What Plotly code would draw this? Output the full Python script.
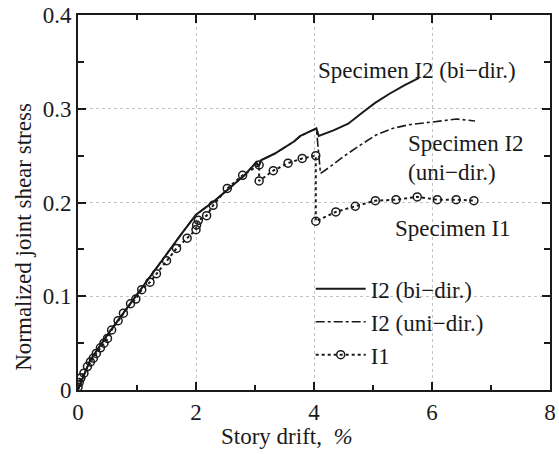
import plotly.graph_objects as go

# I2 bi-directional (solid)
bi_x = [0, 0.2, 0.5, 0.8, 1.1, 1.4, 1.76, 2.0, 2.32, 2.6, 2.82, 3.02, 3.06, 3.1, 3.33, 3.66, 3.77, 4.04, 4.08, 4.33, 4.58, 4.8, 5.03, 5.28, 5.53, 5.78]
bi_y = [0, 0.031, 0.059, 0.085, 0.111, 0.136, 0.167, 0.187, 0.202, 0.217, 0.229, 0.243, 0.238, 0.245, 0.252, 0.265, 0.271, 0.279, 0.271, 0.277, 0.284, 0.295, 0.306, 0.316, 0.325, 0.333]

# I2 uni-directional (dash-dot)
uni_x = [0, 0.2, 0.5, 0.8, 1.1, 1.4, 1.76, 2.0, 2.32, 2.6, 2.82, 3.02, 3.06, 3.1, 3.33, 3.66, 3.77, 4.04, 4.11, 4.27, 4.5, 4.78, 5.05, 5.33, 5.61, 5.89, 6.17, 6.42, 6.73]
uni_y = [0, 0.031, 0.059, 0.085, 0.111, 0.136, 0.167, 0.187, 0.202, 0.217, 0.229, 0.243, 0.238, 0.245, 0.252, 0.265, 0.271, 0.279, 0.231, 0.238, 0.249, 0.261, 0.272, 0.279, 0.283, 0.285, 0.287, 0.289, 0.287]

# I1 (dotted with open circles)
i1_x = [0, 0.02, 0.05, 0.10, 0.16, 0.21, 0.26, 0.31, 0.38, 0.44, 0.50, 0.57, 0.68, 0.77, 0.89, 0.98, 1.08, 1.22, 1.33, 1.50, 1.67, 1.85, 2.00, 2.01, 2.04, 2.18, 2.29, 2.53, 2.79, 3.07, 3.07, 3.31, 3.56, 3.80, 4.03, 4.03, 4.37, 4.70, 5.04, 5.39, 5.75, 6.09, 6.41, 6.71]
i1_y = [0.003, 0.008, 0.013, 0.018, 0.025, 0.030, 0.034, 0.039, 0.045, 0.050, 0.055, 0.064, 0.074, 0.082, 0.092, 0.097, 0.107, 0.115, 0.124, 0.138, 0.151, 0.162, 0.171, 0.176, 0.181, 0.186, 0.197, 0.215, 0.229, 0.240, 0.223, 0.234, 0.242, 0.247, 0.250, 0.180, 0.190, 0.196, 0.202, 0.203, 0.206, 0.203, 0.203, 0.202]

x_ticks = [0, 2, 4, 6, 8]
y_ticks = [0, 0.1, 0.2, 0.3, 0.4]
y_tick_text = ["0", "0.1", "0.2", "0.3", "0.4"]

FONT = "Liberation Serif"
INK = "#1a1a1a"
FS = 23

fig = go.Figure()
fig.add_trace(go.Scatter(x=bi_x, y=bi_y, mode="lines", name="I2 (bi\u2212dir.)",
                         line=dict(color=INK, width=2), legendgroup="a"))
fig.add_trace(go.Scatter(x=uni_x, y=uni_y, mode="lines", name="I2 (uni\u2212dir.)",
                         line=dict(color=INK, width=1.6, dash="dashdot"), legendgroup="b"))
fig.add_trace(go.Scatter(x=i1_x, y=i1_y, mode="lines+markers", name="I1",
                         line=dict(color=INK, width=2, dash="dot"),
                         marker=dict(symbol="circle-open", size=8, color=INK, line=dict(width=1.5)),
                         legendgroup="c"))

axis_common = dict(showline=True, linecolor=INK, linewidth=2, mirror="allticks",
                   ticks="inside", ticklen=8, tickwidth=1.5, tickcolor=INK,
                   showgrid=True, gridcolor="#c4c4c4", griddash="dot", gridwidth=1,
                   zeroline=False, tickfont=dict(family=FONT, size=FS, color=INK))

fig.update_xaxes(range=[0, 8], tickvals=x_ticks, ticklabeloverflow="allow",
                 minor=dict(dtick=1, ticks="inside", ticklen=5, tickcolor=INK, showgrid=False),
                 **axis_common)
fig.update_yaxes(range=[0, 0.4], tickvals=y_ticks, ticktext=y_tick_text,
                 minor=dict(dtick=0.05, ticks="inside", ticklen=6, tickcolor=INK, showgrid=False),
                 **axis_common)

ann_font = dict(family=FONT, size=FS, color=INK)
fig.add_annotation(x=-0.117, y=0.408, xref="paper", yref="paper", text="Normalized joint shear stress",
                   textangle=-90, showarrow=False, font=ann_font, xanchor="center", yanchor="middle")
fig.add_annotation(x=0.4435, y=-0.125, xref="paper", yref="paper", text="Story drift,  <i>%</i>",
                   showarrow=False, font=ann_font, xanchor="center", yanchor="middle")
fig.add_annotation(x=5.74, y=0.341, xref="x", yref="y", text="Specimen I2 (bi\u2212dir.)",
                   showarrow=False, font=ann_font)
fig.add_annotation(x=6.58, y=0.263, xref="x", yref="y", text="Specimen I2",
                   showarrow=False, font=ann_font)
fig.add_annotation(x=6.34, y=0.2325, xref="x", yref="y", text="(uni\u2212dir.)",
                   showarrow=False, font=ann_font)
fig.add_annotation(x=6.36, y=0.172, xref="x", yref="y", text="Specimen I1",
                   showarrow=False, font=ann_font)

fig.update_layout(
    width=559, height=454,
    margin=dict(l=78, r=3, t=15, b=64),
    paper_bgcolor="white", plot_bgcolor="white",
    showlegend=True,
    legend=dict(x=0.493, y=0.327, xanchor="left", yanchor="top",
                bgcolor="rgba(0,0,0,0)", font=dict(family=FONT, size=FS, color=INK),
                tracegroupgap=0, itemwidth=50, traceorder="normal"),
    font=dict(family=FONT, color=INK),
)

fig.write_html("out.html")
